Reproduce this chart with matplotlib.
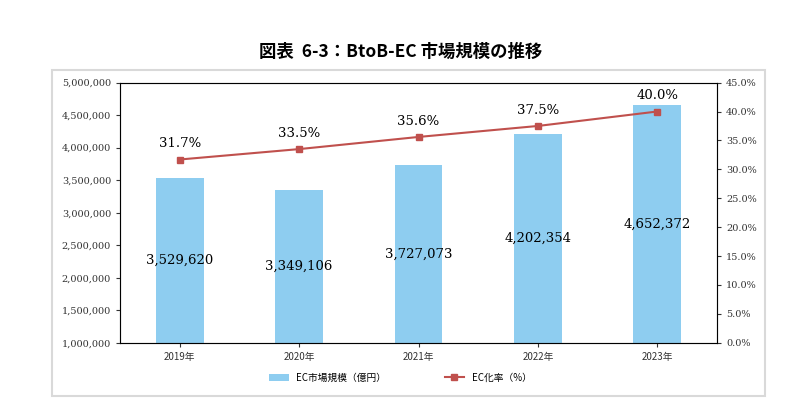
import matplotlib
matplotlib.use("Agg")
import matplotlib.pyplot as plt
from matplotlib.patches import Rectangle

plt.rcParams["font.family"] = "Noto Sans CJK JP"

years = ["2019年", "2020年", "2021年", "2022年", "2023年"]
market = [3529620, 3349106, 3727073, 4202354, 4652372]
rate = [31.7, 33.5, 35.6, 37.5, 40.0]

fig = plt.figure(figsize=(8.01, 4.13), dpi=100)
fig.text(0.5, 0.875, "図表  6-3：BtoB-EC 市場規模の推移", ha="center", va="center", fontsize=12.5, weight="bold")
fig.patches.append(Rectangle((0.065, 0.04), 0.89, 0.79, transform=fig.transFigure, fill=False, ec="#d9d9d9", lw=1.5))

ax = fig.add_axes([0.15, 0.17, 0.745, 0.63])
x = range(len(years))
ax.bar(x, market, width=0.4, color="#8ecdf0", label="EC市場規模（億円）", zorder=2)
ax.set_ylim(1000000, 5000000)
ax.set_yticks(range(1000000, 5000001, 500000))
ax.set_yticklabels([f"{v:,}" for v in range(1000000, 5000001, 500000)], fontsize=7, family="DejaVu Serif")
ax.set_xticks(list(x))
ax.set_xticklabels(years, fontsize=7)
ax.set_xlim(-0.5, 4.5)
for i, v in enumerate(market):
    ax.text(i, (v + 1000000) / 2, f"{v:,}", ha="center", va="center", fontsize=9.5, family="DejaVu Serif")
for s in ax.spines.values():
    s.set_color("#888888")
ax.tick_params(length=3, colors="#333333")

ax2 = ax.twinx()
ax2.plot(x, rate, color="#c0504d", marker="s", markersize=5, lw=1.5, label="EC化率（%）")
ax2.set_ylim(0, 45)
ax2.set_yticks([i * 5 for i in range(10)])
ax2.set_yticklabels([f"{i*5:.1f}%" for i in range(10)], fontsize=7, family="DejaVu Serif")
ax2.tick_params(length=3, colors="#333333")
for i, v in enumerate(rate):
    ax2.text(i, v + 1.6, f"{v:.1f}%", ha="center", va="bottom", fontsize=9.5, family="DejaVu Serif")

h1, l1 = ax.get_legend_handles_labels()
h2, l2 = ax2.get_legend_handles_labels()
fig.legend(h1 + h2, l1 + l2, loc="center", bbox_to_anchor=(0.5, 0.085), ncol=2, frameon=False, fontsize=7, columnspacing=6)
fig.savefig("out.png", dpi=100)
